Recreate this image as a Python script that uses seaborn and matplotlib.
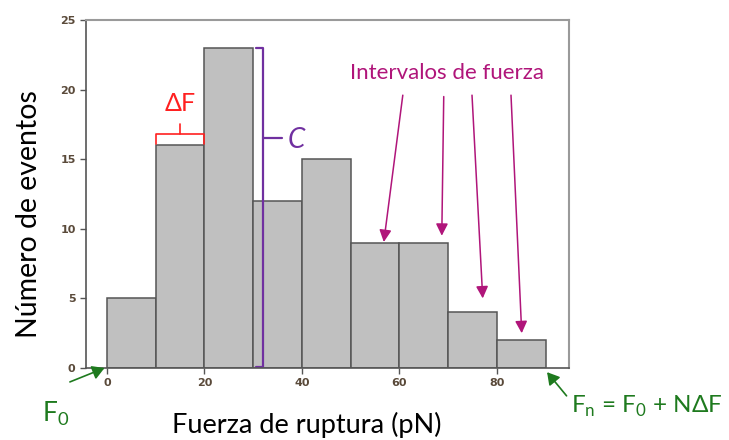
#!/usr/bin/env python3
"""Histograma de fuerzas de ruptura con anotaciones."""

import seaborn as sns
import matplotlib.pyplot as plt

# DATA
bin_edges = [0, 10, 20, 30, 40, 50, 60, 70, 80, 90]
counts = [5, 16, 23, 12, 15, 9, 9, 4, 2]
x_ticks = [0, 20, 40, 60, 80]
y_ticks = [0, 5, 10, 15, 20, 25]

# arrows of "Intervalos de fuerza": (x_start, y_start, x_end, y_end)
arrow_x0 = [60.7, 69.1, 74.9, 82.9]
arrow_y0 = [19.6, 19.5, 19.6, 19.6]
arrow_x1 = [56.8, 68.7, 77.1, 85.1]
arrow_y1 = [9.05, 9.5, 5.0, 2.5]

sns.set_theme(style="white")
plt.rcParams['font.family'] = ['Lato', 'DejaVu Sans']

fig = plt.figure(figsize=(7.29, 4.40), dpi=100)
ax = fig.add_axes([86 / 729, 72 / 440, (569 - 86) / 729, (368 - 20) / 440])

centers = [(a + b) / 2 for a, b in zip(bin_edges[:-1], bin_edges[1:])]
sns.histplot(x=centers, weights=counts, bins=bin_edges, ax=ax,
             color="#c0c0c0", edgecolor="#555555", linewidth=1.1, alpha=1)

ax.set_xlim(-4.3, 94.8)
ax.set_ylim(0, 25)
ax.set_xticks(x_ticks)
ax.set_yticks(y_ticks)
ax.tick_params(axis="both", labelsize=8, labelcolor="#5a4a3a", length=4,
               width=1, color="#555555", direction="out", bottom=True, left=True)
for lab in ax.get_xticklabels() + ax.get_yticklabels():
    lab.set_fontweight("bold")
    lab.set_family(["Liberation Sans Narrow", "DejaVu Sans"])
for s in ["left", "bottom"]:
    ax.spines[s].set_color("#555555")
    ax.spines[s].set_linewidth(1.2)
for s in ["top", "right"]:
    ax.spines[s].set_color("#9a9a9a")
    ax.spines[s].set_linewidth(1.5)

ax.set_ylabel("Número de eventos", fontsize=20.5, color="black")
ax.yaxis.set_label_coords(-0.091, 0.443)
ax.set_xlabel("Fuerza de ruptura (pN)", fontsize=19.5, color="black")
ax.xaxis.set_label_coords(0.458, -0.125)

# Delta F bracket (red)
red = "#ff2020"
yb0, yb1 = 16.1, 16.8
ax.plot([10, 10, 20, 20], [yb0, yb1, yb1, yb0], color=red, lw=1.2, clip_on=False)
ax.plot([15, 15], [yb1, yb1 + 0.7], color=red, lw=1.2)
ax.text(15, 19.0, "ΔF", color=red, fontsize=18, ha="center", va="center")

# C bracket (purple)
purple = "#7030a0"
xc = 32.1
ax.plot([30.5, xc, xc, 30.5], [23.0, 23.0, 0.05, 0.05], color=purple, lw=1.6)
ax.plot([xc, 36.0], [16.5, 16.5], color=purple, lw=1.6)
ax.text(37.0, 16.4, "C", color=purple, fontsize=20, style="italic",
        ha="left", va="center")

# Intervalos de fuerza (magenta)
magenta = "#b0157a"
ax.text(69.7, 21.2, "Intervalos de fuerza", color=magenta, fontsize=16,
        ha="center", va="center")
for x0, y0, x1, y1 in zip(arrow_x0, arrow_y0, arrow_x1, arrow_y1):
    ax.annotate("", xy=(x1, y1), xytext=(x0, y0),
                arrowprops=dict(arrowstyle="-|>,head_length=0.6,head_width=0.3",
                                color=magenta, lw=1.1, shrinkA=0, shrinkB=0))

# F0 and Fn (green)
green = "#1e7a1e"
ax.annotate("", xy=(-0.5, 0), xytext=(-7.6, -1.0),
            arrowprops=dict(arrowstyle="-|>,head_length=0.6,head_width=0.35",
                            color=green, lw=1.2, shrinkA=0, shrinkB=0),
            annotation_clip=False)
fig.text(42 / 729, 1 - 414 / 440, r"F$_\mathregular{0}$", color=green,
         fontsize=19, ha="left", va="center")
ax.annotate("", xy=(90.3, -0.3), xytext=(94.3, -2.0),
            arrowprops=dict(arrowstyle="-|>,head_length=0.6,head_width=0.35",
                            color=green, lw=1.2, shrinkA=0, shrinkB=0),
            annotation_clip=False)
fig.text(571 / 729, 1 - 406 / 440,
         r"F$_\mathregular{n}$ = F$_\mathregular{0}$ + NΔF", color=green,
         fontsize=17.5, ha="left", va="center")

plt.savefig("out.png", dpi=100)
